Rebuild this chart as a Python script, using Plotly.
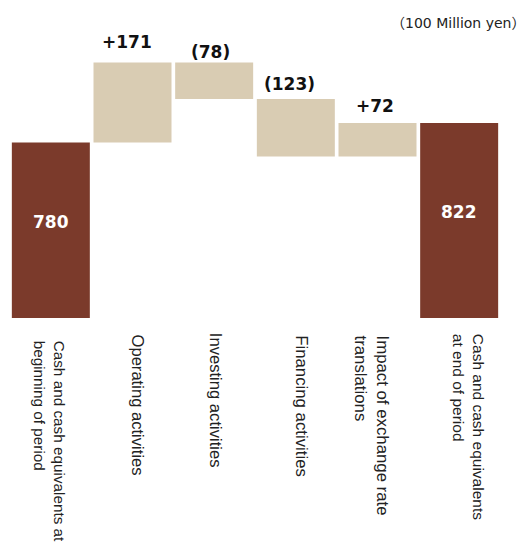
import plotly.graph_objects as go

# ---- data ----
categories = ["begin", "operating", "investing", "financing", "fx", "end"]
axis_labels = [
    "Cash and cash equivalents at<br>beginning of period",
    "Operating activities",
    "Investing activities",
    "Financing activities",
    "Impact of exchange rate<br>translations",
    "Cash and cash equivalents<br>at end of period",
]
values = [780, 171, -78, -123, 72, 822]
measures = ["absolute", "relative", "relative", "relative", "relative", "total"]
value_labels = ["780", "+171", "(78)", "(123)", "+72", "822"]
unit_label = "（100 Million yen）"

# ---- styles ----
DARK = "#7B3A2B"
BEIGE = "#D9CCB3"
Y_MIN, Y_MAX = 405, 1042
label_xshift = [0, -6, -3.5, -6.5, -2.5, 0]
label_yshift = [0, 21, 11, 15, 17, 0]
tick_xshift = [-1, 4.5, 1.5, 6, -6, 10]
tick_top_px = [21, 14, 13, 15, 15, 14]
tick_size = [15.3, 16.6, 16.6, 16.8, 16.8, 15.5]

fig = go.Figure(go.Waterfall(
    x=categories,
    y=values,
    measure=measures,
    increasing=dict(marker=dict(color=BEIGE)),
    decreasing=dict(marker=dict(color=BEIGE)),
    totals=dict(marker=dict(color=DARK)),
    connector=dict(visible=False),
    hoverinfo="skip",
))

annotations = []
running = 0
for i, (cat, v, m, lab) in enumerate(zip(categories, values, measures, value_labels)):
    if m == "relative":
        top = max(running, running + v)
        running += v
        annotations.append(dict(
            x=cat, y=top, xref="x", yref="y", text="<b>" + lab + "</b>", showarrow=False,
            xanchor="center", yanchor="middle",
            xshift=label_xshift[i], yshift=label_yshift[i],
            font=dict(family="DejaVu Sans", size=17, color="#111"),
        ))
    else:
        total = v if m == "absolute" else running
        running = total
        annotations.append(dict(
            x=cat, y=(Y_MIN + total) / 2, xref="x", yref="y", text="<b>" + lab + "</b>",
            showarrow=False, xanchor="center", yanchor="middle", yshift=8,
            font=dict(family="DejaVu Sans", size=17, color="white"),
        ))

for i, (cat, lab) in enumerate(zip(categories, axis_labels)):
    annotations.append(dict(
        x=cat, y=0, xref="x", yref="paper", text=lab, showarrow=False,
        textangle=90, align="left", xanchor="center", yanchor="top",
        xshift=tick_xshift[i], yshift=-tick_top_px[i],
        font=dict(family="Liberation Sans, Arial", size=tick_size[i], color="#222"),
    ))

annotations.append(dict(
    x=1, y=1, xref="paper", yref="paper", text=unit_label, showarrow=False,
    xanchor="right", yanchor="middle", xshift=27, yshift=-3,
    font=dict(family="DejaVu Sans, Noto Sans CJK JP", size=14, color="#222"),
))

fig.update_layout(
    width=527, height=543,
    margin=dict(l=10, r=27, t=20, b=225),
    paper_bgcolor="white", plot_bgcolor="white",
    showlegend=False,
    waterfallgap=0.045,
    xaxis=dict(showticklabels=False, showgrid=False, zeroline=False, showline=False, ticks=""),
    yaxis=dict(range=[Y_MIN, Y_MAX], visible=False, showgrid=False, zeroline=False),
    annotations=annotations,
)

fig.write_html("out.html")
